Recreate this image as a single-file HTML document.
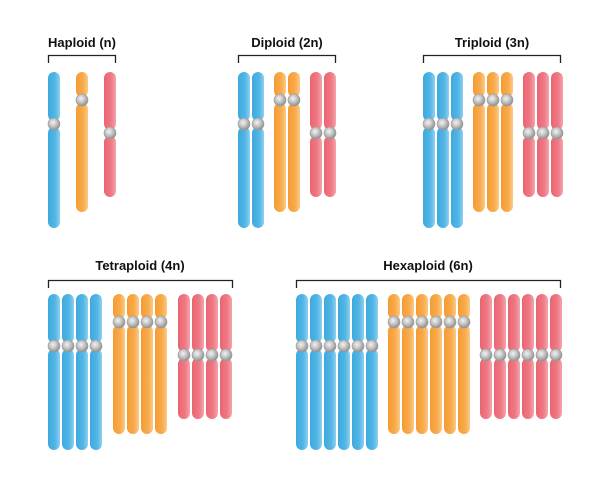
<!DOCTYPE html>
<html><head><meta charset="utf-8"><style>
html,body{margin:0;padding:0;background:#fff;}
svg{display:block;}
text{font-family:"Liberation Sans",Arial,sans-serif;font-weight:bold;font-size:13px;fill:#111;}
</style></head><body>
<svg id="s" width="610" height="487" viewBox="0 0 610 487" xmlns="http://www.w3.org/2000/svg">
<defs>
<linearGradient id="gb" x1="0" x2="1"><stop offset="0" stop-color="#3ea9dd"/><stop offset="0.6" stop-color="#52b6e6"/><stop offset="1" stop-color="#8fd0f0"/></linearGradient>
<linearGradient id="go" x1="0" x2="1"><stop offset="0" stop-color="#f59c33"/><stop offset="0.6" stop-color="#f8ab4c"/><stop offset="1" stop-color="#fbc985"/></linearGradient>
<linearGradient id="gr" x1="0" x2="1"><stop offset="0" stop-color="#ea6572"/><stop offset="0.6" stop-color="#ef7984"/><stop offset="1" stop-color="#f5a5ad"/></linearGradient>
<radialGradient id="gc" cx="0.42" cy="0.38" r="0.65"><stop offset="0" stop-color="#f2f2f2"/><stop offset="0.45" stop-color="#c8c8c8"/><stop offset="1" stop-color="#8a8a8a"/></radialGradient>
</defs>
<g fill="none" stroke="#222" stroke-width="1.3">
<path d="M48.5 63V55.5H115.5V63"/>
<path d="M238.5 63V55.5H335.5V63"/>
<path d="M423.5 63V55.5H560.5V63"/>
<path d="M48.5 288V280.5H232.5V288"/>
<path d="M296.5 288V280.5H560.5V288"/>
</g>
<text x="82" y="47" text-anchor="middle">Haploid (n)</text>
<text x="287" y="47" text-anchor="middle">Diploid (2n)</text>
<text x="492" y="47" text-anchor="middle">Triploid (3n)</text>
<text x="140" y="270" text-anchor="middle">Tetraploid (4n)</text>
<text x="428" y="270" text-anchor="middle">Hexaploid (6n)</text>
<g id="c"></g>
</svg>
<script>
var g=document.getElementById('c'),ns='http://www.w3.org/2000/svg';
function el(t,a){var e=document.createElementNS(ns,t);for(var k in a)e.setAttribute(k,a[k]);g.appendChild(e);}
function chrom(x,top,bot,cen,fill){
 el('rect',{x:x,y:top,width:12,height:cen-3-top,rx:6,fill:fill});
 el('rect',{x:x,y:cen+3,width:12,height:bot-cen-3,rx:6,fill:fill});
 el('circle',{cx:x+6,cy:cen,r:6,fill:'url(#gc)',stroke:'#9a9a9a','stroke-width':0.6});
}
function group(x0,n,top,gap){
 var specs=[['url(#gb)',156,52],['url(#go)',140,28],['url(#gr)',125,61]];
 var x=x0;
 for(var s=0;s<3;s++){
  for(var i=0;i<n;i++){chrom(x+i*14,top,top+specs[s][1],top+specs[s][2],specs[s][0]);}
  x+=n*14+gap;
 }
}
group(48,1,72,14);
group(238,2,72,8);
group(423,3,72,8);
group(48,4,294,9);
group(296,6,294,8);
</script>
</body></html>
